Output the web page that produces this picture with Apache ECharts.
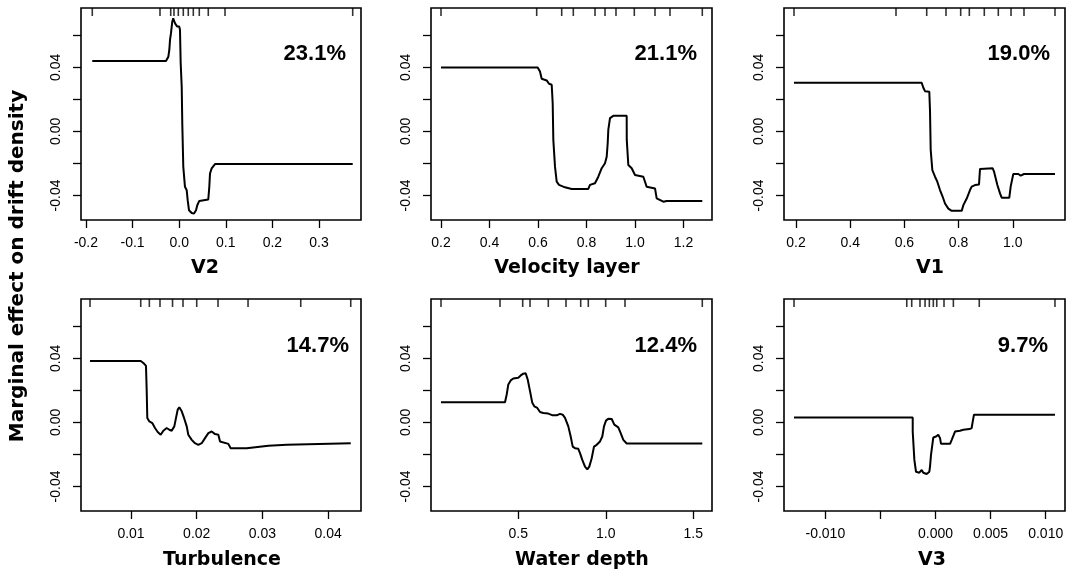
<!DOCTYPE html>
<html><head><meta charset="utf-8">
<script src="https://cdn.jsdelivr.net/npm/echarts@6/dist/echarts.min.js"></script>
<style>html,body{margin:0;padding:0;background:#fff}#c{width:1067px;height:577px}</style>
</head><body><div id="c"></div>
<script>
// ---- data ----
const Y_MIN = -0.0553, Y_MAX = 0.0770;
const Y_TICKS = [-0.04, -0.02, 0, 0.02, 0.04, 0.06];
const Y_LABELS = [-0.04, 0, 0.04];

const V2_CURVE = [[-0.1865,0.0439],[-0.0283,0.0439],[-0.0233,0.0466],[-0.0212,0.0508],[-0.0197,0.0571],[-0.0176,0.0613],[-0.0161,0.0654],[-0.0148,0.0685],[-0.0127,0.0706],[-0.0112,0.0691],[-0.0083,0.0671],[-0.0041,0.0654],[0.0002,0.0654],[0.0017,0.0633],[0.0032,0.0425],[0.0054,0.0279],[0.0067,0.0039],[0.0088,-0.0221],[0.0124,-0.0346],[0.0161,-0.0367],[0.0182,-0.0429],[0.0210,-0.0492],[0.0268,-0.0509],[0.0318,-0.0513],[0.0361,-0.0492],[0.0388,-0.0461],[0.0431,-0.0434],[0.0624,-0.0425],[0.0646,-0.0346],[0.0661,-0.0263],[0.0697,-0.0231],[0.0768,-0.0204],[0.3723,-0.0204]];
const VEL_CURVE = [[0.2,0.0399],[0.5987,0.0399],[0.6082,0.0374],[0.6152,0.0328],[0.6358,0.0318],[0.6454,0.0297],[0.6565,0.0291],[0.6606,0.0176],[0.6632,-0.0053],[0.6701,-0.0220],[0.6771,-0.0314],[0.6866,-0.0334],[0.7113,-0.0349],[0.7390,-0.0359],[0.8074,-0.0359],[0.8144,-0.0334],[0.8350,-0.0324],[0.8487,-0.0283],[0.8627,-0.0230],[0.8763,-0.0199],[0.8833,-0.0158],[0.8874,-0.0074],[0.8899,0.0009],[0.8969,0.0083],[0.9105,0.0097],[0.9657,0.0097],[0.9660,-0.0053],[0.9725,-0.0210],[0.9864,-0.0230],[1.0000,-0.0272],[1.0343,-0.0283],[1.0483,-0.0346],[1.0825,-0.0356],[1.0894,-0.0418],[1.1167,-0.0439],[1.1307,-0.0434],[1.2775,-0.0434]];
const V1_CURVE = [[0.1926,0.0303],[0.6638,0.0303],[0.6699,0.0272],[0.6760,0.0251],[0.6919,0.0247],[0.6945,0.0126],[0.6970,-0.0115],[0.7030,-0.0241],[0.7129,-0.0283],[0.7214,-0.0314],[0.7314,-0.0366],[0.7413,-0.0408],[0.7498,-0.0450],[0.7621,-0.0482],[0.7745,-0.0496],[0.8114,-0.0496],[0.8176,-0.0460],[0.8299,-0.0419],[0.8421,-0.0366],[0.8483,-0.0345],[0.8605,-0.0335],[0.8753,-0.0331],[0.8790,-0.0234],[0.9258,-0.0230],[0.9306,-0.0251],[0.9430,-0.0335],[0.9528,-0.0387],[0.9590,-0.0414],[0.9871,-0.0414],[0.9921,-0.0345],[1.0018,-0.0266],[1.0203,-0.0266],[1.0292,-0.0276],[1.0413,-0.0266],[1.1557,-0.0266]];
const TURB_CURVE = [[0.00376,0.0383],[0.01148,0.0383],[0.01198,0.0367],[0.01228,0.0352],[0.01239,0.0195],[0.01248,0.0028],[0.01279,0.0006],[0.01324,-0.0004],[0.01365,-0.0035],[0.01406,-0.0060],[0.01452,-0.0077],[0.01492,-0.0052],[0.01543,-0.0035],[0.01583,-0.0046],[0.01619,-0.0052],[0.01659,-0.0025],[0.01685,0.0028],[0.01711,0.0080],[0.01735,0.0094],[0.01772,0.0069],[0.01811,0.0023],[0.01848,-0.0025],[0.01872,-0.0077],[0.01924,-0.0109],[0.01974,-0.0130],[0.02024,-0.0140],[0.02076,-0.0130],[0.02126,-0.0098],[0.02177,-0.0067],[0.02228,-0.0057],[0.02279,-0.0073],[0.02329,-0.0077],[0.02355,-0.0119],[0.02380,-0.0130],[0.02481,-0.0134],[0.02517,-0.0161],[0.02761,-0.0161],[0.02785,-0.0151],[0.03090,-0.0146],[0.03116,-0.0140],[0.03370,-0.0140],[0.03394,-0.0130],[0.04344,-0.0130]];
const DEPTH_CURVE = [[0.0583,0.0126],[0.4240,0.0126],[0.4337,0.0174],[0.4429,0.0237],[0.4566,0.0262],[0.4714,0.0274],[0.5000,0.0279],[0.5137,0.0293],[0.5286,0.0304],[0.5423,0.0306],[0.5537,0.0268],[0.5669,0.0195],[0.5800,0.0122],[0.5914,0.0100],[0.6086,0.0090],[0.6240,0.0065],[0.6429,0.0059],[0.6714,0.0055],[0.6966,0.0044],[0.7194,0.0044],[0.7383,0.0053],[0.7537,0.0048],[0.7669,0.0028],[0.7857,-0.0025],[0.7994,-0.0088],[0.8109,-0.0151],[0.8240,-0.0161],[0.8429,-0.0165],[0.8526,-0.0192],[0.8657,-0.0234],[0.8811,-0.0276],[0.8943,-0.0293],[0.9057,-0.0276],[0.9194,-0.0224],[0.9326,-0.0151],[0.9480,-0.0140],[0.9669,-0.0119],[0.9800,-0.0088],[0.9897,-0.0025],[1.0011,0.0011],[1.0143,0.0023],[1.0337,0.0021],[1.0486,-0.0014],[1.0714,-0.0031],[1.0851,-0.0067],[1.1000,-0.0109],[1.1194,-0.0132],[1.5514,-0.0132]];
const V3_CURVE = [[-0.01284,0.0031],[-0.00207,0.0031],[-0.00207,-0.0057],[-0.00195,-0.0067],[-0.00192,-0.0234],[-0.00177,-0.0308],[-0.00147,-0.0314],[-0.00125,-0.0297],[-0.00111,-0.0314],[-0.00080,-0.0322],[-0.00056,-0.0308],[-0.00050,-0.0276],[-0.00041,-0.0203],[-0.00029,-0.0140],[-0.00020,-0.0094],[0.00005,-0.0088],[0.00025,-0.0077],[0.00041,-0.0098],[0.00050,-0.0134],[0.00132,-0.0134],[0.00147,-0.0109],[0.00177,-0.0057],[0.00222,-0.0052],[0.00252,-0.0046],[0.00307,-0.0042],[0.00328,-0.0035],[0.00338,0.0006],[0.00349,0.0048],[0.01084,0.0048]];

const V2_RUG = [-0.1865,-0.0412,-0.0182,-0.0112,-0.0019,0.0088,0.0195,0.0303,0.0431,0.0624,0.0983,0.3723];
const VEL_RUG = [0.2,0.5946,0.6977,0.7456,0.8351,0.8763,0.9216,0.9971,1.0825,1.1443,1.2775];
const V1_RUG = [0.1926,0.569,0.6823,0.7535,0.8077,0.8395,0.8948,0.9465,0.9934,1.0413,1.1557];
const TURB_RUG = [0.00376,0.01148,0.01279,0.01441,0.01632,0.01791,0.02,0.02324,0.02781,0.03583,0.04344];
const DEPTH_RUG = [0.0583,0.3954,0.5251,0.5669,0.6714,0.7726,0.8566,0.9,0.9994,1.1097,1.5514];
const V3_RUG = [-0.01284,-0.00261,-0.00216,-0.00141,-0.00095,-0.00056,-0.0002,0.00011,0.00077,0.00162,0.00397,0.01084];

const NAMES = ['V2','Velocity layer','V1','Turbulence','Water depth','V3'];
const IMPORTANCE = ['23.1%','21.1%','19.0%','14.7%','12.4%','9.7%'];
const X_RANGES = [[-0.2107,0.3901],[0.1588,1.3175],[0.1557,1.1926],[0.00239,0.0450],[0.0011,1.6069],[-0.01375,0.01175]];
const X_TICKS = [[-0.2,-0.1,0,0.1,0.2,0.3],[0.2,0.4,0.6,0.8,1.0,1.2],[0.2,0.4,0.6,0.8,1.0],[0.01,0.02,0.03,0.04],[0.5,1.0,1.5],[-0.01,-0.005,0,0.005,0.01]];
const X_LABELS = [[-0.2,-0.1,0,0.1,0.2,0.3],[0.2,0.4,0.6,0.8,1.0,1.2],[0.2,0.4,0.6,0.8,1.0],[0.01,0.02,0.03,0.04],[0.5,1.0,1.5],[-0.01,0,0.005,0.01]];
const X_DECIMALS = [1,1,1,2,1,3];
const CURVES = [V2_CURVE, VEL_CURVE, V1_CURVE, TURB_CURVE, DEPTH_CURVE, V3_CURVE];
const RUGS = [V2_RUG, VEL_RUG, V1_RUG, TURB_RUG, DEPTH_RUG, V3_RUG];
const Y_TITLE = 'Marginal effect on drift density';

// ---- layout ----
const COL_LEFT = [81, 431, 784];
const COL_W = [280, 281, 281];
const ROW_TOP = [8, 299];
const PLOT_H = 212;
const NAME_X = [205, 567, 930, 222, 582, 932];
const NAME_Y = [268, 560];
const PCT_RIGHT = [346, 697, 1050, 349, 697, 1048];
const PCT_Y = [54, 55];
const TICK_FONT = "'Liberation Sans', Arial, sans-serif";
const TITLE_FONT = "'DejaVu Sans', Verdana, sans-serif";
const PCT_FONT = "'Liberation Sans Narrow', 'Liberation Sans', sans-serif";

const grids = [], xAxes = [], yAxes = [], series = [], graphics = [];
for (let i = 0; i < 6; i++) {
  const r = Math.floor(i / 3), c = i % 3;
  grids.push({left: COL_LEFT[c], top: ROW_TOP[r], width: COL_W[c], height: PLOT_H,
    show: true, borderColor: '#000', borderWidth: 1.6, backgroundColor: 'transparent', containLabel: false});
  const dec = X_DECIMALS[i];
  xAxes.push({type: 'value', gridIndex: i, min: X_RANGES[i][0], max: X_RANGES[i][1], position: 'bottom',
    axisLine: {show: false, onZero: false}, splitLine: {show: false},
    axisTick: {show: true, length: 8, inside: false, customValues: X_TICKS[i], lineStyle: {color: '#000', width: 1.3}},
    axisLabel: {show: true, customValues: X_LABELS[i], margin: 16, color: '#000', fontSize: 14, fontFamily: TICK_FONT,
      formatter: v => Number(v).toFixed(dec)}});
  yAxes.push({type: 'value', gridIndex: i, min: Y_MIN, max: Y_MAX, position: 'left',
    axisLine: {show: false, onZero: false}, splitLine: {show: false},
    axisTick: {show: true, length: 8, customValues: Y_TICKS, lineStyle: {color: '#000', width: 1.3}},
    axisLabel: {show: true, customValues: Y_LABELS, rotate: 90, margin: 18, color: '#000', fontSize: 14, fontFamily: TICK_FONT,
      formatter: v => Number(v).toFixed(2)}});
  series.push({type: 'line', xAxisIndex: i, yAxisIndex: i, data: CURVES[i], showSymbol: false, symbol: 'none',
    lineStyle: {color: '#000', width: 2}, animation: false, silent: true, z: 3});
  series.push({type: 'scatter', xAxisIndex: i, yAxisIndex: i, data: RUGS[i].map(v => [v, Y_MAX]),
    symbol: 'rect', symbolSize: [1.6, 8], symbolOffset: [0, 4], clip: false,
    itemStyle: {color: '#000'}, animation: false, silent: true, z: 4});
  graphics.push({type: 'text', silent: true, x: NAME_X[i], y: NAME_Y[r],
    style: {text: NAMES[i], font: "bold 19px " + TITLE_FONT, fill: '#000', align: 'center', verticalAlign: 'middle'}});
  graphics.push({type: 'text', silent: true, x: PCT_RIGHT[i], y: ROW_TOP[r] + (PCT_Y[r] - 8),
    style: {text: IMPORTANCE[i], font: "bold 22px " + PCT_FONT, fill: '#000', align: 'right', verticalAlign: 'middle'}});
}
graphics.push({type: 'text', silent: true, x: 18, y: 266, rotation: Math.PI / 2,
  style: {text: Y_TITLE, font: "bold 20px " + TITLE_FONT, fill: '#000', align: 'center', verticalAlign: 'middle'}});

const chart = echarts.init(document.getElementById('c'), null, {renderer: 'canvas'});
chart.setOption({animation: false, backgroundColor: '#fff', grid: grids, xAxis: xAxes, yAxis: yAxes, series: series, graphic: graphics});
</script></body></html>
